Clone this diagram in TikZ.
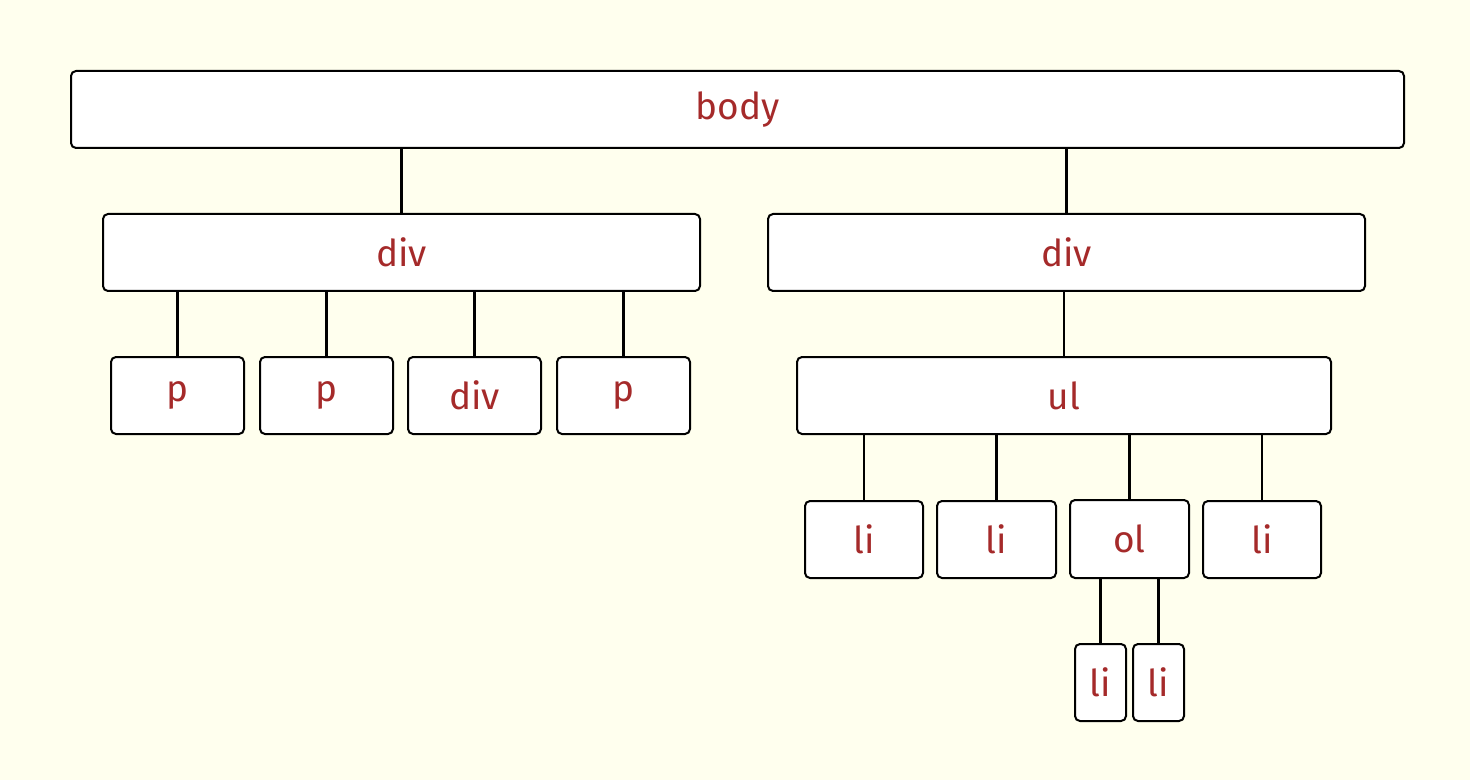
\documentclass[tikz,border=0pt]{standalone}
\usepackage{fontspec}
\setmainfont{Fira Sans}
\definecolor{bgc}{HTML}{FFFFEE}
\definecolor{txt}{HTML}{A52A2A}
\begin{document}
\begin{tikzpicture}[x=0.5pt,y=-0.5pt,
  tag/.style={draw=black, line width=1pt, fill=white, rounded corners=2.5pt,
    inner sep=0pt, text=txt, font=\fontsize{18.5}{18.5}\selectfont, anchor=north west},
  link/.style={draw=black, line width=1.2pt}]
\fill[bgc] (0,0) rectangle (1470,780);
\useasboundingbox (0,0) rectangle (1470,780);
\newcommand\tagbox[6]{% name, x1, y1, x2, y2, text
  \node[tag, minimum width=#4*0.5pt-#2*0.5pt, minimum height=#5*0.5pt-#3*0.5pt] (#1) at (#2,#3) {#6};}
\tagbox{body}{70}{70}{1403}{147}{body}
\tagbox{divA}{102}{213}{699}{290}{div}
\tagbox{divB}{767}{213}{1364}{290}{div}
\tagbox{pA}{110}{356}{243}{433}{p}
\tagbox{pB}{259}{356}{392}{433}{p}
\tagbox{divC}{407}{356}{540}{433}{div}
\tagbox{pC}{556}{356}{689}{433}{p}
\tagbox{ul}{796}{356}{1330}{433}{ul}
\tagbox{liA}{804}{500}{922}{577}{li}
\tagbox{liB}{936}{500}{1055}{577}{li}
\tagbox{ol}{1069}{499}{1188}{577}{ol}
\tagbox{liC}{1202}{500}{1320}{577}{li}
\tagbox{liD}{1074}{643}{1125}{720}{li}
\tagbox{liE}{1132}{643}{1183}{720}{li}
\foreach \c/\p in {divA/body, divB/body, pA/divA, pB/divA, divC/divA, pC/divA,
  ul/divB, liA/ul, liB/ul, ol/ul, liC/ul, liD/ol, liE/ol}
  \draw[link] (\c.north) -- (\c.north |- \p.south);
\end{tikzpicture}
\end{document}
